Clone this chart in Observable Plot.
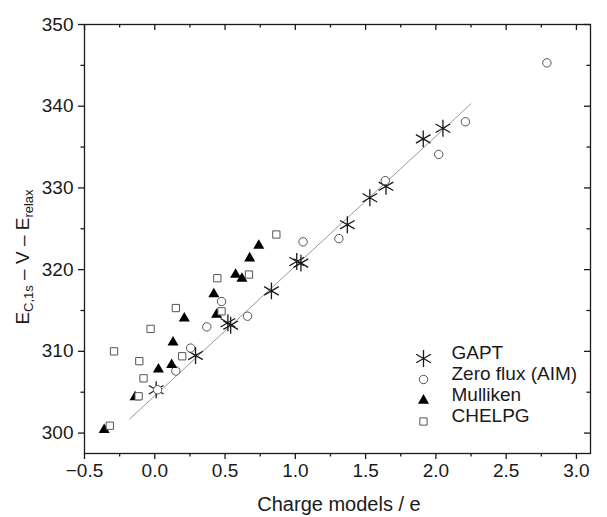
<!DOCTYPE html>
<html>
<head>
<meta charset="utf-8">
<script src="https://cdn.jsdelivr.net/npm/d3@7"></script>
<script src="https://cdn.jsdelivr.net/npm/@observablehq/plot@0.6"></script>
<style>
  html, body { margin: 0; padding: 0; background: #fff; }
  #chart { width: 607px; height: 517px; }
</style>
</head>
<body>
<div id="chart"></div>
<script>
// ---- data ----
const seriesNames = ["GAPT", "Zero flux (AIM)", "Mulliken", "CHELPG"];

const gaptX = [0.01, 0.29, 0.52, 0.54, 0.83, 1.01, 1.04, 1.37, 1.53, 1.645, 1.91, 2.05];
const gaptY = [305.3, 309.5, 313.5, 313.2, 317.4, 321.0, 320.8, 325.5, 328.8, 330.2, 336.0, 337.3];

const aimX = [0.02, 0.15, 0.255, 0.37, 0.475, 0.66, 1.055, 1.31, 1.64, 2.02, 2.21, 2.79];
const aimY = [305.3, 307.6, 310.4, 313.0, 316.1, 314.3, 323.4, 323.8, 330.9, 334.1, 338.1, 345.3];

const mullX = [-0.36, -0.14, 0.026, 0.12, 0.13, 0.21, 0.42, 0.44, 0.575, 0.62, 0.675, 0.74];
const mullY = [300.4, 304.4, 307.8, 308.35, 311.1, 314.05, 317.0, 314.5, 319.4, 318.9, 321.4, 322.95];

const chelX = [-0.32, -0.29, -0.115, -0.11, -0.08, -0.03, 0.15, 0.195, 0.445, 0.475, 0.67, 0.865];
const chelY = [300.9, 310.0, 304.5, 308.8, 306.7, 312.75, 315.3, 309.4, 318.95, 314.9, 319.4, 324.3];

// fitted line end points
const fitX = [-0.18, 2.25];
const fitY = [301.7, 340.3];

const xTicks = [-0.5, 0.0, 0.5, 1.0, 1.5, 2.0, 2.5, 3.0];
const xMinor = [-0.25, 0.25, 0.75, 1.25, 1.75, 2.25, 2.75];
const yTicks = [300, 310, 320, 330, 340, 350];
const yMinor = [305, 315, 325, 335, 345];

const xLabel = "Charge models / e";

// ---- build tables ----
const zip = (xs, ys) => xs.map((x, i) => ({x, y: ys[i]}));
const gapt = zip(gaptX, gaptY);
const aim = zip(aimX, aimY);
const mull = zip(mullX, mullY);
const chel = zip(chelX, chelY);
const fit = zip(fitX, fitY);

const ink = "#1a1a1a";
const symStyles = [
  {symbol: "asterisk", r: 8, stroke: ink, fill: "none", strokeWidth: 1.3},
  {symbol: "circle", r: 4.2, stroke: "#555", fill: "white", strokeWidth: 1},
  {symbol: "triangle", r: 4.1, stroke: "none", fill: "#000", strokeWidth: 0},
  {symbol: "square", r: 4.1, stroke: "#555", fill: "white", strokeWidth: 1}
];

const legendRowsDy = [-95, -74, -53, -32];
const legendMarks = [];
seriesNames.forEach((name, i) => {
  legendMarks.push(Plot.dot([name], {frameAnchor: "bottom-right", dx: -167, dy: legendRowsDy[i], ...symStyles[i]}));
  legendMarks.push(Plot.text([name], {frameAnchor: "bottom-right", dx: -139, dy: legendRowsDy[i], text: d => d, textAnchor: "start", fontSize: 19, fill: ink}));
});

const W = 607, H = 517, mL = 84, mR = 17, mT = 24, mB = 64;
const frameH = H - mT - mB, frameW = W - mL - mR;
const tickStyle = {stroke: ink, strokeWidth: 1.3};

const chart = Plot.plot({
  width: W,
  height: H,
  marginLeft: mL,
  marginRight: mR,
  marginTop: mT,
  marginBottom: mB,
  style: {fontFamily: "'Liberation Sans', Arial, sans-serif", fontSize: "19px", color: ink, background: "white"},
  x: {domain: [-0.5, 3.1]},
  y: {domain: [297.5, 350]},
  marks: [
    Plot.line(fit, {x: "x", y: "y", stroke: "#9a9a9a", strokeWidth: 1}),
    Plot.dot(gapt, {x: "x", y: "y", ...symStyles[0]}),
    Plot.dot(aim, {x: "x", y: "y", ...symStyles[1]}),
    Plot.dot(mull, {x: "x", y: "y", ...symStyles[2]}),
    Plot.dot(chel, {x: "x", y: "y", ...symStyles[3]}),
    // axes: bottom & left (outward)
    Plot.axisX(xTicks, {anchor: "bottom", tickSize: 6, tickPadding: 4, tickFormat: d3.format(".1f"), label: null, fontSize: 19, ...tickStyle, fill: ink}),
    Plot.axisX(xMinor, {anchor: "bottom", tickSize: 3.5, tickFormat: () => "", label: null, ...tickStyle}),
    Plot.axisY(yTicks, {anchor: "left", tickSize: 6, tickPadding: 5, tickFormat: d3.format("d"), label: null, fontSize: 19, ...tickStyle, fill: ink}),
    Plot.axisY(yMinor, {anchor: "left", tickSize: 3.5, tickFormat: () => "", label: null, ...tickStyle}),
    // top & right mirror ticks (inward)
    Plot.tickX(xTicks, {x: d => d, insetBottom: frameH - 6, ...tickStyle}),
    Plot.tickX(xMinor, {x: d => d, insetBottom: frameH - 3.5, ...tickStyle}),
    Plot.tickY(yTicks, {y: d => d, insetLeft: frameW - 6, ...tickStyle}),
    Plot.tickY(yMinor, {y: d => d, insetLeft: frameW - 3.5, ...tickStyle}),
    Plot.frame({stroke: ink, strokeWidth: 1.3}),
    ...legendMarks
  ]
});

document.getElementById("chart").appendChild(chart);

// axis titles with sub-scripts
const svg = d3.select(chart);
svg.append("text")
  .attr("x", 339).attr("y", 511)
  .attr("text-anchor", "middle")
  .attr("font-size", 20).attr("fill", ink)
  .text(xLabel);

const yl = svg.append("text")
  .attr("transform", "translate(29,257) rotate(-90)")
  .attr("text-anchor", "middle")
  .attr("font-size", 19).attr("fill", ink);
yl.append("tspan").text("E");
yl.append("tspan").attr("font-size", 13).attr("dy", 4).text("C,1s");
yl.append("tspan").attr("dy", -4).text(" \u2013 V \u2013 E");
yl.append("tspan").attr("font-size", 13).attr("dy", 4).text("relax");
</script>
</body>
</html>
